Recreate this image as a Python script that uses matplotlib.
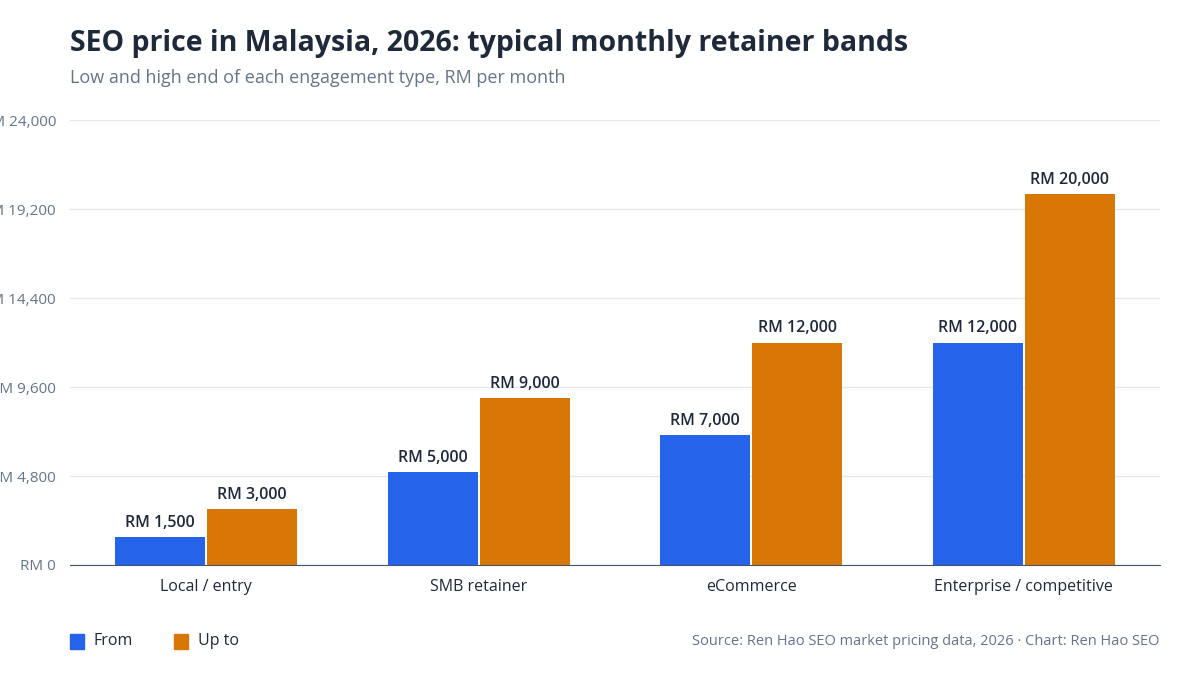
import numpy as np
import matplotlib.pyplot as plt

categories = ['Local / entry', 'SMB retainer', 'eCommerce', 'Enterprise / competitive']
price_from = [1500, 5000, 7000, 12000]
price_upto = [3000, 9000, 12000, 20000]
yticks = [0, 4800, 9600, 14400, 19200, 24000]

blue = '#2563eb'
orange = '#d97706'
dark = '#1e293b'
grey = '#64748b'

plt.rcParams['font.family'] = ['Open Sans', 'DejaVu Sans']
fig = plt.figure(figsize=(12, 6.75), dpi=100)
ax = fig.add_axes([0.0583, 0.163, 0.9083, 0.659])

x = np.arange(len(categories))
w = 0.33
b1 = ax.bar(x - 0.169, price_from, w, color=blue)
b2 = ax.bar(x + 0.169, price_upto, w, color=orange)
for bars in (b1, b2):
    for r in bars:
        ax.text(r.get_x() + r.get_width() / 2, r.get_height() + 350, 'RM {:,}'.format(int(r.get_height())),
                ha='center', va='bottom', fontsize=11.5, fontweight='semibold', color=dark)

ax.set_xlim(-0.5, 3.5)
ax.set_ylim(0, 24000)
ax.set_yticks(yticks)
ax.set_yticklabels(['RM {:,}'.format(v) for v in yticks], color=grey, fontsize=11)
ax.set_xticks(x)
ax.set_xticklabels(categories, fontsize=11.5, color=dark)
ax.tick_params(axis='both', length=0)
ax.tick_params(axis='x', pad=10)
ax.tick_params(axis='y', pad=10)
ax.grid(axis='y', color='#e5e7eb', linewidth=1)
ax.set_axisbelow(True)
for s in ['top', 'right', 'left']:
    ax.spines[s].set_visible(False)
ax.spines['bottom'].set_color('#475569')

fig.text(0.058, 0.935, 'SEO price in Malaysia, 2026: typical monthly retainer bands',
         fontsize=20.5, fontweight='bold', color=dark, va='center')
fig.text(0.058, 0.885, 'Low and high end of each engagement type, RM per month',
         fontsize=13, color=grey, va='center')

fig.patches.append(plt.Rectangle((0.058, 0.039), 0.012, 0.022, color=blue, transform=fig.transFigure))
fig.text(0.078, 0.050, 'From', fontsize=11.5, color=dark, va='center')
fig.patches.append(plt.Rectangle((0.145, 0.039), 0.012, 0.022, color=orange, transform=fig.transFigure))
fig.text(0.165, 0.050, 'Up to', fontsize=11.5, color=dark, va='center')
fig.text(0.966, 0.050, 'Source: Ren Hao SEO market pricing data, 2026 · Chart: Ren Hao SEO',
         fontsize=10.5, color=grey, va='center', ha='right')

fig.savefig('out.png', dpi=100)
